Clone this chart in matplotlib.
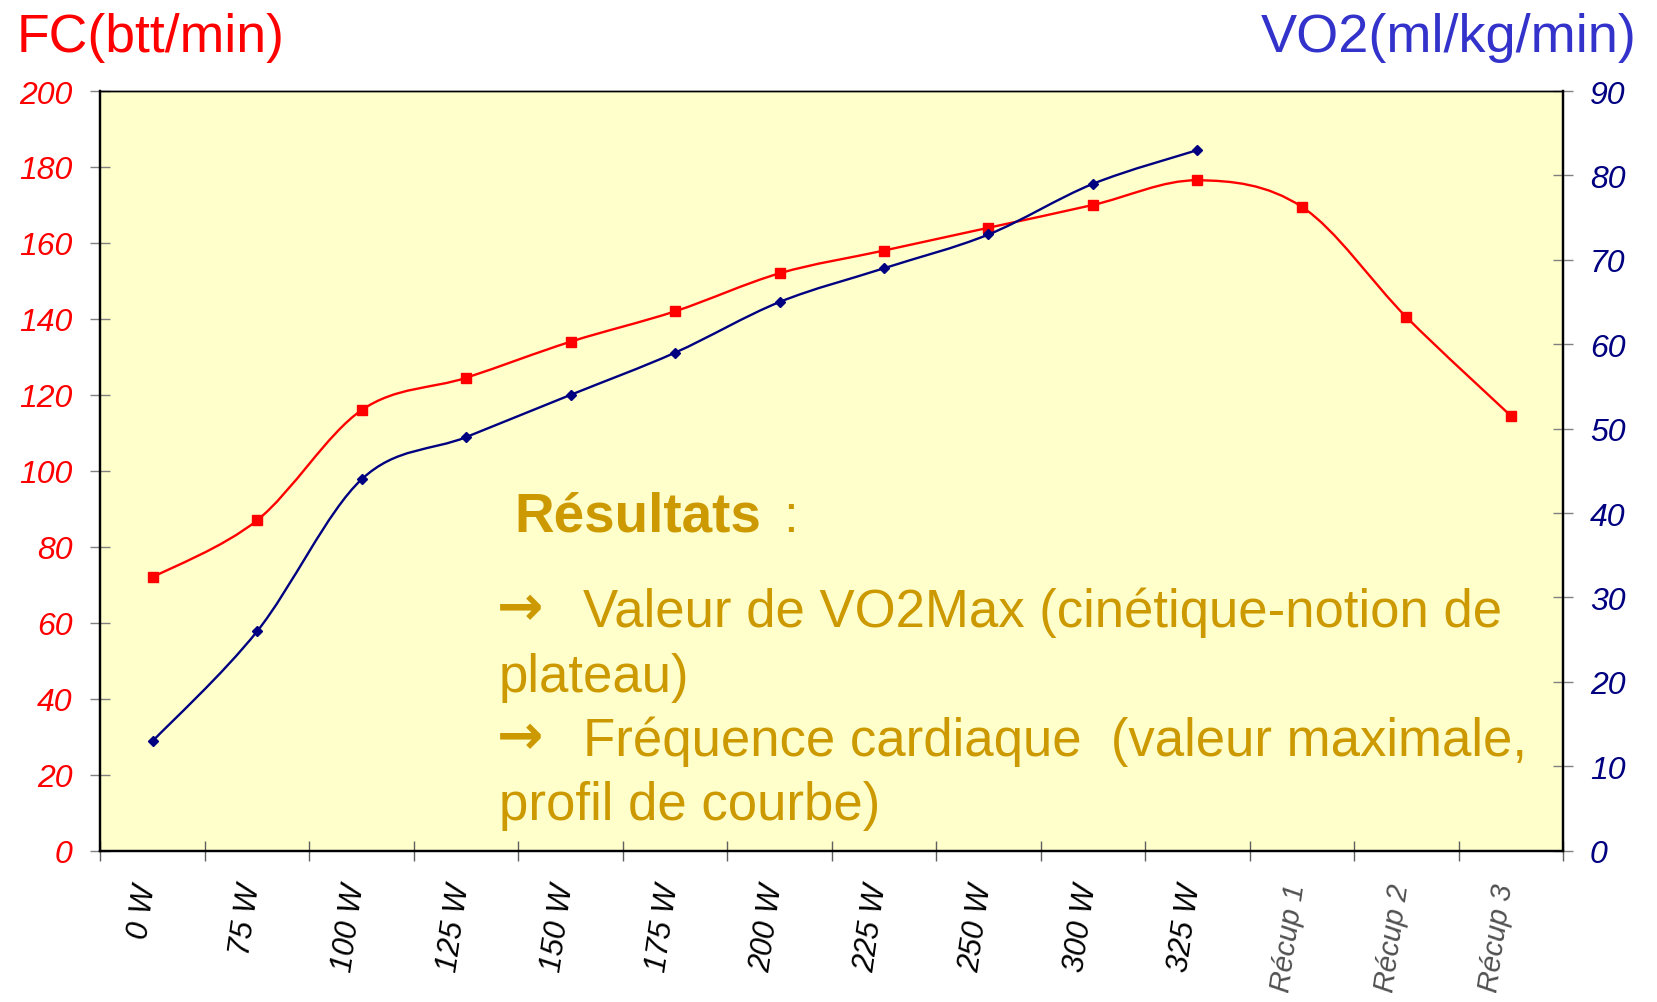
import matplotlib
matplotlib.use('Agg')
import matplotlib.pyplot as plt
from matplotlib.path import Path
from matplotlib.patches import PathPatch
from matplotlib.transforms import blended_transform_factory, ScaledTranslation

# ---------------- data ----------------
categories = ['0 W', '75 W', '100 W', '125 W', '150 W', '175 W', '200 W',
              '225 W', '250 W', '300 W', '325 W', 'Récup 1', 'Récup 2', 'Récup 3']
fc_values = [72, 87, 116, 124.5, 134, 142, 152, 158, 164, 170, 176.5, 169.5, 140.5, 114.5]
vo2_values = [13, 26, 44, 49, 54, 59, 65, 69, 73, 79, 83]
fc_ticks = [0, 20, 40, 60, 80, 100, 120, 140, 160, 180, 200]
vo2_ticks = [0, 10, 20, 30, 40, 50, 60, 70, 80, 90]
fc_title = 'FC(btt/min)'
vo2_title = 'VO2(ml/kg/min)'
results_title = 'Résultats'
results_lines = ['Valeur de VO2Max (cinétique-notion de',
                 'plateau)',
                 'Fréquence cardiaque  (valeur maximale,',
                 'profil de courbe)']
results_arrows = [True, False, True, False]

FONT = ['Liberation Sans', 'DejaVu Sans']
plt.rcParams['font.family'] = FONT

W, H = 1658, 1003
RED = '#FF0000'
NAVY = '#000080'
TITLE_BLUE = '#3333CC'
GOLD = '#CC9900'
BG = '#FFFFCC'

fig = plt.figure(figsize=(W / 100, H / 100), dpi=100)
fig.patch.set_facecolor('white')

left, right, top, bottom = 100.5, 1563, 92, 851.7
ax = fig.add_axes([left / W, 1 - bottom / H, (right - left) / W, (bottom - top) / H])
ax.set_facecolor(BG)
ax2 = ax.twinx()

n = len(categories)
ax.set_xlim(-0.5, n - 0.5)
ax.set_ylim(fc_ticks[0], fc_ticks[-1])
ax2.set_ylim(vo2_ticks[0], vo2_ticks[-1])


def smooth_path(xs, ys):
    verts = [(xs[0], ys[0])]
    codes = [Path.MOVETO]
    m = len(xs)
    for i in range(m - 1):
        x0, y0 = (xs[i - 1], ys[i - 1]) if i > 0 else (xs[i], ys[i])
        x1, y1 = xs[i], ys[i]
        x2, y2 = xs[i + 1], ys[i + 1]
        x3, y3 = (xs[i + 2], ys[i + 2]) if i + 2 < m else (x2, y2)
        c1 = (x1 + (x2 - x0) / 6.0, y1 + (y2 - y0) / 6.0)
        c2 = (x2 - (x3 - x1) / 6.0, y2 - (y3 - y1) / 6.0)
        verts += [c1, c2, (x2, y2)]
        codes += [Path.CURVE4] * 3
    return Path(verts, codes)


xs_fc = list(range(len(fc_values)))
xs_vo2 = list(range(len(vo2_values)))

ax.add_patch(PathPatch(smooth_path(xs_fc, fc_values), facecolor='none',
                       edgecolor=RED, lw=1.7, zorder=3))
ax.plot(xs_fc, fc_values, linestyle='none', marker='s', markersize=6.5,
        color=RED, zorder=4)

ax2.add_patch(PathPatch(smooth_path(xs_vo2, vo2_values), facecolor='none',
                        edgecolor=NAVY, lw=1.7, zorder=3))
ax2.plot(xs_vo2, vo2_values, linestyle='none', marker='D', markersize=5.5,
         color=NAVY, zorder=4)

# ---------------- axes styling ----------------
for a in (ax, ax2):
    for s in a.spines.values():
        s.set_color('black')
        s.set_linewidth(1.6)
    a.spines['top'].set_linewidth(1.0)

ax.set_yticks(fc_ticks)
ax.set_yticklabels([str(t) for t in fc_ticks])
ax.tick_params(axis='y', direction='inout', length=14.4, width=1.0,
               color='#808080', pad=13.0, labelsize=23, labelcolor=RED)
for lab in ax.get_yticklabels():
    lab.set_style('italic')

ax2.set_yticks(vo2_ticks)
ax2.set_yticklabels([str(t) for t in vo2_ticks])
ax2.tick_params(axis='y', direction='inout', length=14.4, width=1.0,
                color='#808080', pad=12.2, labelsize=23, labelcolor=NAVY)
for lab in ax2.get_yticklabels():
    lab.set_style('italic')

ax.set_xticks([i - 0.5 for i in range(n + 1)])
ax.set_xticklabels([])
ax.tick_params(axis='x', direction='inout', length=14.4, width=1.0,
               color='#606060')

# category labels, rotated, italic
trans = blended_transform_factory(ax.transData, ax.transAxes) + \
    ScaledTranslation(-6 / 100, -33 / 100, fig.dpi_scale_trans)
for i, c in enumerate(categories):
    is_rec = c.startswith('Récup')
    ax.text(i, 0, c, transform=trans, rotation=82, rotation_mode='anchor',
            ha='right', va='center', fontsize=22 if not is_rec else 21,
            style='italic', color='black' if not is_rec else '#505050',
            clip_on=False)

# ---------------- titles ----------------
fig.text(17 / W, 1 - 52 / H, fc_title, ha='left', va='baseline',
         fontsize=38.5, color=RED)
fig.text(1637 / W, 1 - 52 / H, vo2_title, ha='right', va='baseline',
         fontsize=39, color=TITLE_BLUE)

# ---------------- results text ----------------
fig.text(514 / W, 1 - 532 / H, results_title, ha='left', va='baseline',
         fontsize=39.5, fontweight='bold', color=GOLD)
fig.text(783 / W, 1 - 532 / H, ':', ha='left', va='baseline',
         fontsize=38, color=GOLD)
baselines = [627, 692, 756, 820]
for txt, has_arrow, yb in zip(results_lines, results_arrows, baselines):
    if has_arrow:
        fig.text(497 / W, 1 - (yb - 2) / H, '→', ha='left', va='baseline',
                 fontsize=40, fontweight='bold', color=GOLD,
                 family=['DejaVu Sans'])
        fig.text(583 / W, 1 - yb / H, txt, ha='left', va='baseline',
                 fontsize=38, color=GOLD)
    else:
        fig.text(499 / W, 1 - yb / H, txt, ha='left', va='baseline',
                 fontsize=38, color=GOLD)

fig.savefig('out.png', dpi=100, facecolor='white')
